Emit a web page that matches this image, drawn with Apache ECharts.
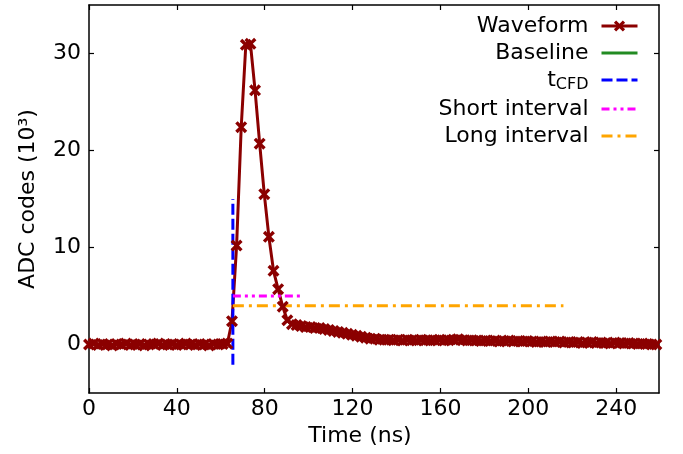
<!DOCTYPE html>
<html>
<head>
<meta charset="utf-8">
<script src="https://cdn.jsdelivr.net/npm/echarts@6/dist/echarts.min.js"></script>
<style>
html,body{margin:0;padding:0;background:#fff;}
#chart{width:683px;height:454px;}
</style>
</head>
<body>
<div id="chart"></div>
<script>
// ---- data ----
const sampleTimes = [0,2.1,4.2,6.3,8.4,10.5,12.6,14.7,16.8,18.9,21,23.1,25.2,27.3,29.4,31.5,33.6,35.7,37.8,39.9,42,44.1,46.2,48.3,50.4,52.5,54.6,56.7,58.8,60.9,63,65.1,67.2,69.3,71.4,73.5,75.6,77.7,79.8,81.9,84,86.1,88.2,90.3,92.4,94.5,96.6,98.7,100.8,102.9,105,107.1,109.2,111.3,113.4,115.5,117.6,119.7,121.8,123.9,126,128.1,130.2,132.3,134.4,136.5,138.6,140.7,142.8,144.9,147,149.1,151.2,153.3,155.4,157.5,159.6,161.7,163.8,165.9,168,170.1,172.2,174.3,176.4,178.5,180.6,182.7,184.8,186.9,189,191.1,193.2,195.3,197.4,199.5,201.6,203.7,205.8,207.9,210,212.1,214.2,216.3,218.4,220.5,222.6,224.7,226.8,228.9,231,233.1,235.2,237.3,239.4,241.5,243.6,245.7,247.8,249.9,252,254.1,256.2,258.3];
const waveformValues = [
  0.0,0.1,-0.05,0.05,0.0,-0.1,0.05,0.0,0.1,-0.05,
  0.0,0.05,-0.1,0.0,0.05,0.1,-0.05,0.0,0.05,-0.05,
  0.0,0.1,0.0,-0.05,0.05,0.0,-0.1,0.05,0.0,0.05,
  0.1,
  2.4,10.2,22.4,30.9,31.0,26.2,20.7,15.5,11.1,7.6,5.7,3.9,2.5,
  2.1,2.0,1.9,1.8,1.8,1.7,1.7,1.6,1.5,1.4,1.3,1.2,1.1,1.0,0.9,0.8,0.7,0.6,0.6,0.5,0.5,
  0.5,0.45,0.5,0.4,0.5,0.45,0.4,0.5,0.45,0.4,0.45,0.5,0.4,0.45,0.5,0.55,
  0.45,0.4,0.45,0.4,0.35,0.4,0.35,0.4,0.3,0.35,0.4,0.3,0.35,0.3,0.35,0.3,0.25,0.3,0.25,0.3,
  0.25,0.3,0.2,0.25,0.2,0.25,0.15,0.2,0.25,0.15,0.2,0.15,0.1,0.2,0.15,0.1,0.15,0.1,0.05,0.1,0.05,0.0,0.0
];
const baselineX = [0, 61];
const baselineY = [0, 0];
const tcfdX = [65.5, 65.5];
const tcfdY = [-2.1, 15];
const shortX = [65.5, 96.9];
const shortY = [5, 5];
const longX = [65.5, 216];
const longY = [4, 4];
const xTicks = [0, 40, 80, 120, 160, 200, 240];
const yTicks = [0, 10, 20, 30];
const seriesNames = ['Waveform', 'Baseline', 'tCFD', 'Short interval', 'Long interval'];

function pairs(xs, ys) { return xs.map((x, i) => [x, ys[i]]); }

const FONT = 'DejaVu Sans';
const FS = 22;
const crossPath = 'path://M2,0 L5,3 L8,0 L10,2 L7,5 L10,8 L8,10 L5,7 L2,10 L0,8 L3,5 L0,2 Z';

const chart = echarts.init(document.getElementById('chart'), null, {renderer: 'canvas'});
const axisLineStyle = {show: true, onZero: false, lineStyle: {color: '#000', width: 1.5}};
const tickStyle = (vals) => ({show: true, inside: true, length: 5, lineStyle: {color: '#000', width: 1.2}, customValues: vals});
const hiddenIcon = {opacity: 0};

chart.setOption({
  animation: false,
  backgroundColor: '#fff',
  textStyle: {fontFamily: FONT},
  grid: {left: 89, right: 24, top: 5, bottom: 61, containLabel: false},
  xAxis: [{
    type: 'value', min: 0, max: 259.5, position: 'bottom',
    name: 'Time (ns)', nameLocation: 'middle', nameGap: 32,
    nameTextStyle: {fontFamily: FONT, fontSize: FS, color: '#000', padding: [0, 28, 0, 0]},
    axisLine: axisLineStyle, splitLine: {show: false},
    axisTick: tickStyle(xTicks),
    axisLabel: {show: true, fontFamily: FONT, fontSize: FS, color: '#000', margin: 5, customValues: xTicks},
  }, {
    type: 'value', min: 0, max: 259.5, position: 'top',
    axisLine: axisLineStyle, splitLine: {show: false},
    axisTick: tickStyle(xTicks),
    axisLabel: {show: false},
  }],
  yAxis: [{
    type: 'value', min: -5, max: 35, position: 'left',
    name: 'ADC codes (10³)', nameLocation: 'middle', nameGap: 50, nameRotate: 90,
    nameTextStyle: {fontFamily: FONT, fontSize: FS, color: '#000'},
    axisLine: axisLineStyle, splitLine: {show: false},
    axisTick: tickStyle(yTicks),
    axisLabel: {show: true, fontFamily: FONT, fontSize: FS, color: '#000', margin: 8, customValues: yTicks},
  }, {
    type: 'value', min: -5, max: 35, position: 'right',
    axisLine: axisLineStyle, splitLine: {show: false},
    axisTick: tickStyle(yTicks),
    axisLabel: {show: false},
  }],
  legend: {
    orient: 'vertical', right: 39, top: 10, align: 'right',
    data: [
      {name: 'Waveform', lineStyle: {width: 3}},
      {name: 'Baseline', itemStyle: hiddenIcon, lineStyle: {width: 3}},
      {name: 'tCFD', itemStyle: hiddenIcon, lineStyle: {width: 3}},
      {name: 'Short interval', itemStyle: hiddenIcon, lineStyle: {width: 3}},
      {name: 'Long interval', itemStyle: hiddenIcon, lineStyle: {width: 3}}
    ],
    itemWidth: 36, itemHeight: 14, itemGap: 5,
    textStyle: {fontFamily: FONT, fontSize: FS, color: '#000', lineHeight: 22, padding: [0, 8, 0, 0],
      rich: {
        t: {fontFamily: FONT, fontSize: FS, color: '#000'},
        sub: {fontFamily: FONT, fontSize: 16, color: '#000', padding: [10, 0, 0, 0]}
      }},
    formatter: function (name) { return name === 'tCFD' ? '{t|t}{sub|CFD}' : name; }
  },
  series: [{
    name: 'Waveform', type: 'line', data: pairs(sampleTimes, waveformValues),
    symbol: crossPath, symbolSize: 12, showAllSymbol: true,
    lineStyle: {color: '#8B0000', width: 3},
    itemStyle: {color: '#8B0000'},
  }, {
    name: 'Baseline', type: 'line', data: pairs(baselineX, baselineY), symbol: 'none',
    lineStyle: {color: '#228B22', width: 3}, itemStyle: {color: '#228B22'},
  }, {
    name: 'tCFD', type: 'line', data: pairs(tcfdX, tcfdY), symbol: 'none',
    lineStyle: {color: '#0000FF', width: 3, type: [11, 4]}, itemStyle: {color: '#0000FF'},
  }, {
    name: 'Short interval', type: 'line', data: pairs(shortX, shortY), symbol: 'none',
    lineStyle: {color: '#FF00FF', width: 3, type: [8, 4, 3, 4, 3, 4]}, itemStyle: {color: '#FF00FF'},
  }, {
    name: 'Long interval', type: 'line', data: pairs(longX, longY), symbol: 'none',
    lineStyle: {color: '#FFA500', width: 3, type: [11, 5, 3, 5]}, itemStyle: {color: '#FFA500'},
  }]
});
</script>
</body>
</html>
